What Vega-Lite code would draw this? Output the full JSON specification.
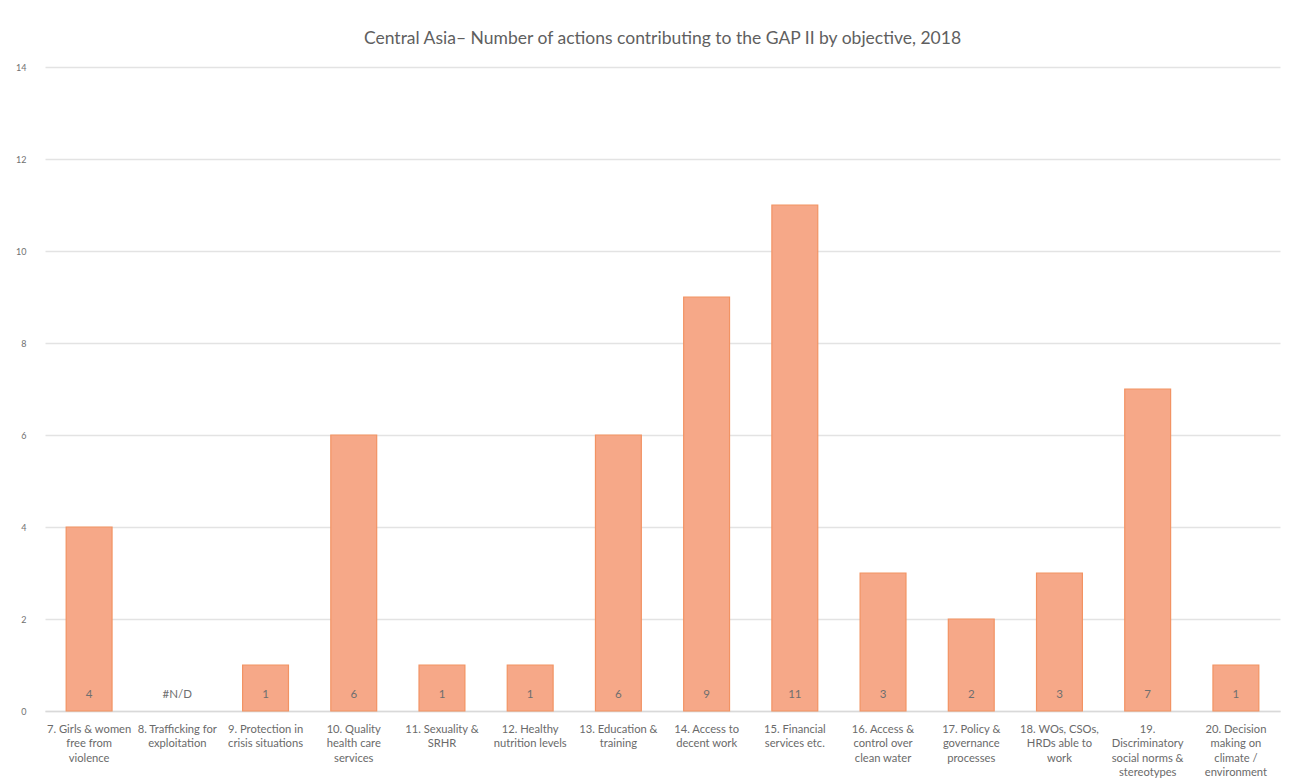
{
  "$schema": "https://vega.github.io/schema/vega-lite/v6.json",
  "autosize": {"type": "none"},
  "width": 1235,
  "height": 644,
  "padding": {"left": 45, "top": 67, "right": 9, "bottom": 72},
  "background": "white",
  "config": {"view": {"stroke": null}, "font": "Lato"},
  "title": {
    "text": "Central Asia– Number of actions contributing to the GAP II by objective, 2018",
    "fontSize": 17.5,
    "fontWeight": "normal",
    "color": "#5f5f5f",
    "offset": 16,
    "anchor": "middle"
  },
  "data": {
    "values": [
      {"objective": "7. Girls & women|free from|violence", "value": 4, "label": "4"},
      {"objective": "8. Trafficking for|exploitation", "value": null, "label": "#N/D"},
      {"objective": "9. Protection in|crisis situations", "value": 1, "label": "1"},
      {"objective": "10. Quality|health care|services", "value": 6, "label": "6"},
      {"objective": "11. Sexuality &|SRHR", "value": 1, "label": "1"},
      {"objective": "12. Healthy|nutrition levels", "value": 1, "label": "1"},
      {"objective": "13. Education &|training", "value": 6, "label": "6"},
      {"objective": "14. Access to|decent work", "value": 9, "label": "9"},
      {"objective": "15. Financial|services etc.", "value": 11, "label": "11"},
      {"objective": "16. Access &|control over|clean water", "value": 3, "label": "3"},
      {"objective": "17. Policy &|governance|processes", "value": 2, "label": "2"},
      {"objective": "18. WOs, CSOs,|HRDs able to|work", "value": 3, "label": "3"},
      {"objective": "19.|Discriminatory|social norms &|stereotypes", "value": 7, "label": "7"},
      {"objective": "20. Decision|making on|climate /|environment", "value": 1, "label": "1"}
    ]
  },
  "encoding": {
    "x": {
      "field": "objective",
      "type": "nominal",
      "sort": null,
      "scale": {
        "domain": [
          "7. Girls & women|free from|violence",
          "8. Trafficking for|exploitation",
          "9. Protection in|crisis situations",
          "10. Quality|health care|services",
          "11. Sexuality &|SRHR",
          "12. Healthy|nutrition levels",
          "13. Education &|training",
          "14. Access to|decent work",
          "15. Financial|services etc.",
          "16. Access &|control over|clean water",
          "17. Policy &|governance|processes",
          "18. WOs, CSOs,|HRDs able to|work",
          "19.|Discriminatory|social norms &|stereotypes",
          "20. Decision|making on|climate /|environment"
        ],
        "paddingInner": 0.48,
        "paddingOuter": 0.24
      },
      "axis": {
        "title": null,
        "labelAngle": 0,
        "labelExpr": "split(datum.label, '|')",
        "labelFontSize": 11.2,
        "labelColor": "#6a6a6a",
        "labelLineHeight": 14.5,
        "labelPadding": 12,
        "labelBaseline": "top",
        "labelLimit": 120,
        "ticks": false,
        "domain": true,
        "domainColor": "#d9d9d9",
        "domainWidth": 1.5
      }
    }
  },
  "layer": [
    {
      "mark": {"type": "bar", "color": "#F6A888", "stroke": "#F29363", "strokeWidth": 1.2},
      "encoding": {
        "y": {
          "field": "value",
          "type": "quantitative",
          "scale": {"domain": [0, 14]},
          "axis": {
            "title": null,
            "values": [0, 2, 4, 6, 8, 10, 12, 14],
            "labelFontSize": 9,
            "labelColor": "#707070",
            "labelPadding": 19,
            "ticks": false,
            "domain": false,
            "gridColor": "#e3e3e3",
            "gridWidth": 1.5
          }
        }
      }
    },
    {
      "mark": {"type": "text", "fontSize": 11.5, "color": "#6f6f6f", "dy": -16, "baseline": "middle"},
      "encoding": {
        "y": {"datum": 0, "type": "quantitative"},
        "text": {"field": "label"}
      }
    }
  ]
}
